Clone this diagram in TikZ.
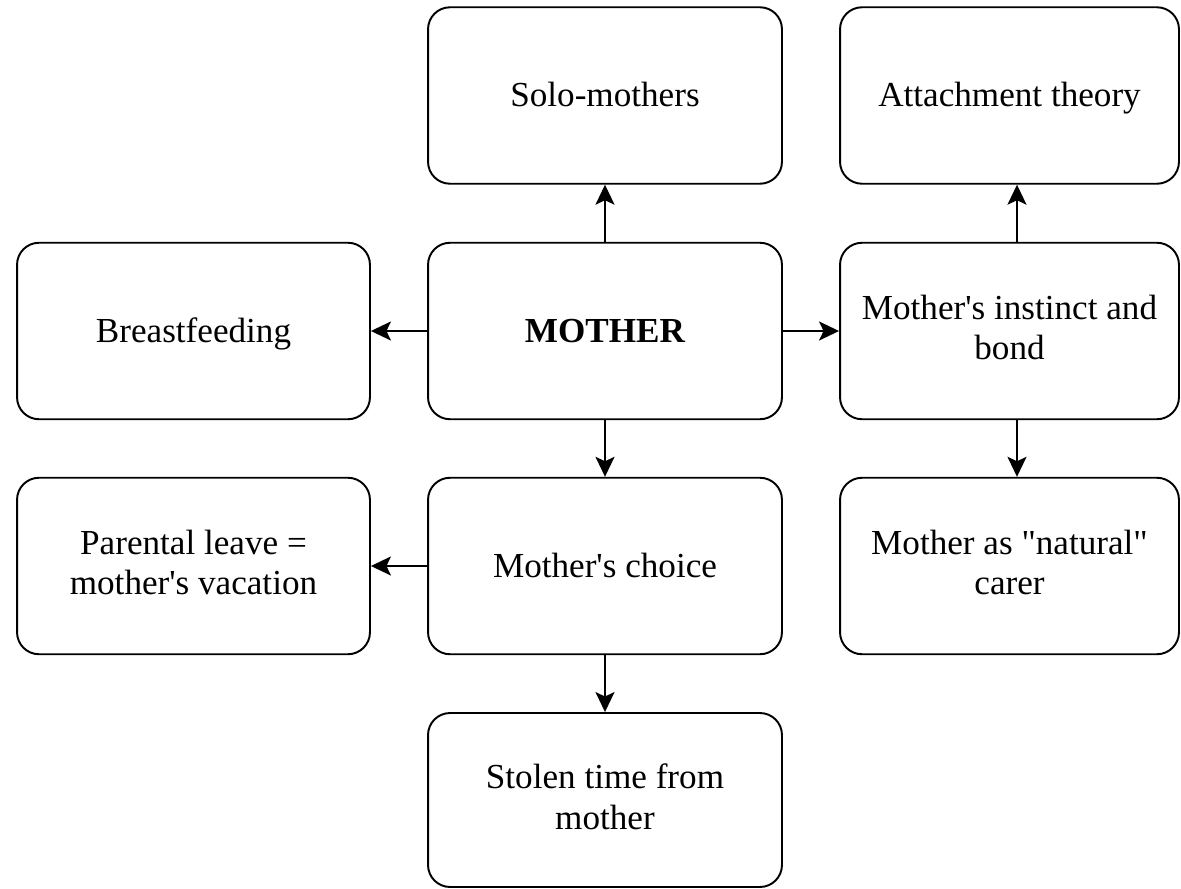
\documentclass[tikz,border=0pt]{standalone}
\usepackage{fontspec}
\setmainfont{Liberation Serif}
\usetikzlibrary{arrows.meta}
\newcommand\boxstrut{\rule[-4pt]{0pt}{21pt}}
\begin{document}
\begin{tikzpicture}[x=0.02cm,y=-0.02cm,
  box/.style={draw, line width=1.1pt, rounded corners=0.44cm, align=center,
    font=\fontsize{20}{23}\selectfont, inner sep=0pt, minimum height=3.53cm,
    execute at begin node=\boxstrut, execute at end node=\boxstrut},
  colL/.style={box, minimum width=7.06cm},
  colM/.style={box, minimum width=7.08cm},
  colR/.style={box, minimum width=6.78cm},
  arr/.style={line width=1.2pt, -{Stealth[length=0.4cm,width=0.38cm,inset=0.09cm]}}]
\useasboundingbox (0,0) rectangle (1181,889);
\node[colM] (solo) at (605,95.5) {Solo-mothers};
\node[colR] (attach) at (1009.5,95.5) {Attachment theory};
\node[colL] (breast) at (193.5,331) {Breastfeeding};
\node[colM] (mother) at (605,331) {\bfseries MOTHER};
\node[colR] (instinct) at (1009.5,331) {Mother\textquotesingle s instinct and\\bond};
\node[colL] (parental) at (193.5,566) {Parental leave =\\mother\textquotesingle s vacation};
\node[colM] (choice) at (605,566) {Mother\textquotesingle s choice};
\node[colR] (carer) at (1009.5,566) {Mother as \textquotedbl natural\textquotedbl\\carer};
\node[colM, minimum height=3.48cm] (stolen) at (605,800) {Stolen time from\\mother};
\draw[arr] (mother.north) -- (solo.south);
\draw[arr] (mother.west) -- (breast.east);
\draw[arr] (mother.east) -- (instinct.west);
\draw[arr] (mother.south) -- (choice.north);
\draw[arr] (choice.west) -- (parental.east);
\draw[arr] (choice.south) -- (stolen.north);
\draw[arr] ([xshift=0.15cm]instinct.north) -- ([xshift=0.15cm]attach.south);
\draw[arr] ([xshift=0.15cm]instinct.south) -- ([xshift=0.15cm]carer.north);
\end{tikzpicture}
\end{document}
